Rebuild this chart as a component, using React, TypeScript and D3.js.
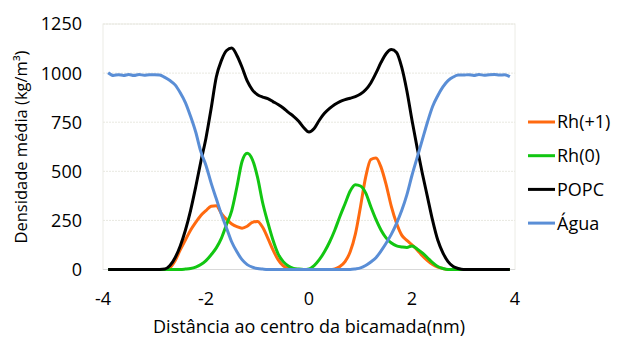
import React from "react";
import * as d3 from "d3";

// distance from bilayer centre, nm (-3.9 .. 3.9, step 0.1)
const distance = d3.range(-39, 40).map((i) => i / 10);

const agua = [
  1002, 988, 992, 988, 993, 988, 993, 989, 992, 992,
  990, 978, 962, 940, 900, 850, 780, 700, 600, 530,
  440, 360, 280, 210, 140, 90, 50, 25, 12, 5,
  2, 0, 0, 0, 0, 0, 0, 0, 0, 0,
  0, 0, 0, 0, 0, 0, 0, 0, 3, 8,
  20, 38, 60, 95, 135, 180, 235, 300, 380, 480,
  570, 660, 750, 830, 885, 930, 962, 980, 990, 990,
  992, 988, 993, 989, 992, 993, 990, 991, 982,
];

const popc = [
  0, 0, 0, 0, 0, 0, 0, 0, 0, 0,
  0, 2, 20, 60, 120, 200, 300, 420, 550, 670,
  820, 980, 1065, 1115, 1128, 1090, 1030, 960, 915, 890,
  878, 870, 855, 840, 822, 800, 780, 755, 722, 700,
  718, 760, 795, 820, 840, 855, 865, 872, 880, 893,
  915, 950, 1000, 1055, 1100, 1120, 1105, 1030, 910, 760,
  620, 490, 370, 250, 150, 85, 40, 15, 5, 0,
  0, 0, 0, 0, 0, 0, 0, 0, 0,
];

const rhPlus1 = [
  0, 0, 0, 0, 0, 0, 0, 0, 0, 0,
  0, 0, 10, 45, 100, 150, 200, 240, 275, 300,
  322, 325, 285, 255, 232, 218, 210, 220, 240, 245,
  215, 160, 100, 50, 18, 5, 0, 0, 0, 0,
  0, 0, 0, 0, 3, 15, 40, 90, 180, 320,
  470, 560, 568, 520, 430, 320, 235, 175, 148, 125,
  100, 70, 45, 25, 12, 5, 0, 0, 0, 0,
  0, 0, 0, 0, 0, 0, 0, 0, 0,
];

const rh0 = [
  0, 0, 0, 0, 0, 0, 0, 0, 0, 0,
  0, 0, 0, 0, 0, 2, 5, 12, 25, 45,
  75, 110, 160, 230, 300, 420, 550, 592, 560, 470,
  340, 240, 150, 80, 40, 18, 6, 2, 0, 3,
  20, 50, 90, 140, 200, 270, 335, 400, 432, 425,
  390, 320, 255, 200, 160, 135, 120, 115, 112, 120,
  105, 85, 60, 35, 15, 5, 0, 0, 0, 0,
  0, 0, 0, 0, 0, 0, 0, 0, 0,
];

const seriesNames = ["Rh(+1)", "Rh(0)", "POPC", "Água"];
const seriesValues = [rhPlus1, rh0, popc, agua];
const seriesColors = ["#FF6A10", "#12C612", "#000000", "#5A8ED6"];

const xTicks = [-4, -2, 0, 2, 4];
const yTicks = [0, 250, 500, 750, 1000, 1250];

const font = "'Open Sans', sans-serif";

export default function App() {
  const left = 103;
  const right = 515;
  const top = 24;
  const bottom = 269.5;

  const x = d3.scaleLinear().domain([-4, 4]).range([left, right]);
  const y = d3.scaleLinear().domain([0, 1250]).range([bottom, top]);

  const line = d3
    .line<number>()
    .x((_, i) => x(distance[i]))
    .y((d) => y(d))
    .curve(d3.curveMonotoneX);

  return (
    <svg
      width={618}
      height={337}
      style={{ position: "absolute", left: 0, top: 0, background: "#fff" }}
      fontFamily={font}
    >
      {/* plot area */}
      <rect x={left} y={top} width={right - left} height={bottom - top} fill="none" stroke="#ecece6" />
      {yTicks.slice(1).map((t) => (
        <line key={t} x1={left} x2={right} y1={y(t)} y2={y(t)} stroke="#e8e8e0" strokeDasharray="2,1" />
      ))}
      <line x1={left} x2={right} y1={bottom} y2={bottom} stroke="#d9d9d9" />

      {yTicks.map((t) => (
        <text key={t} x={82} y={y(t)} dy="0.36em" textAnchor="end" fontSize={18} fill="#000">
          {t}
        </text>
      ))}
      {xTicks.map((t) => (
        <text key={t} x={x(t)} y={305} textAnchor="middle" fontSize={18} fill="#000">
          {t}
        </text>
      ))}

      <text x={309} y={333} textAnchor="middle" fontSize={18} fill="#000">
        Distância ao centro da bicamada(nm)
      </text>
      <text transform="translate(27,147) rotate(-90)" textAnchor="middle" fontSize={16.5} fill="#000">
        Densidade média (kg/m³)
      </text>

      {seriesValues.map((vals, i) => (
        <path
          key={seriesNames[i]}
          d={line(vals) || ""}
          fill="none"
          stroke={seriesColors[i]}
          strokeWidth={3}
          strokeLinejoin="round"
        />
      ))}

      {seriesNames.map((name, i) => {
        const ly = 122 + i * 33.7;
        return (
          <g key={name}>
            <line x1={528} x2={555} y1={ly} y2={ly} stroke={seriesColors[i]} strokeWidth={3} />
            <text x={557} y={ly} dy="0.36em" fontSize={18} fill="#000">
              {name}
            </text>
          </g>
        );
      })}
    </svg>
  );
}
